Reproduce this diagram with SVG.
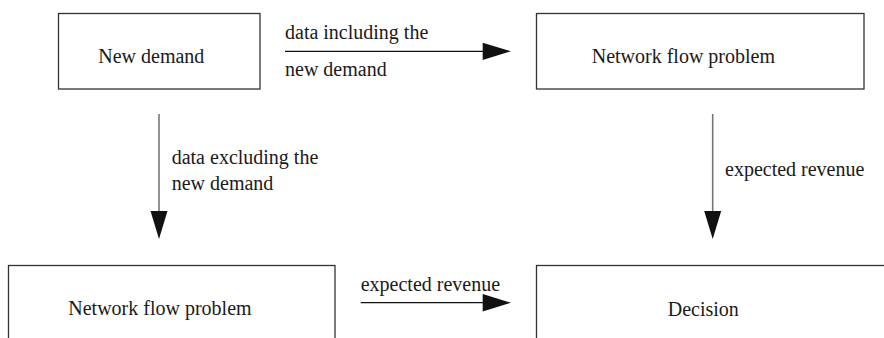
<svg xmlns="http://www.w3.org/2000/svg" width="884" height="338" viewBox="0 0 884 338">
<style>
.box{fill:#fff;stroke:#333;stroke-width:1.3}
.t{font-family:"Liberation Serif","Times New Roman",serif;font-size:20px;fill:#1a1a1a}
.h{stroke:#111;stroke-width:1.3;fill:none}
.v{stroke:#777;stroke-width:1.6;fill:none}
.head{fill:#111;stroke:none}
</style>
<rect width="884" height="338" fill="#fff"/>
<g id="new-demand">
<rect class="box" x="58.5" y="13.5" width="201.5" height="75.5"/>
<text class="t" x="98.3" y="63">New demand</text>
</g>
<g id="network-flow-top">
<rect class="box" x="536.5" y="13.5" width="327.5" height="75.5"/>
<text class="t" x="591.7" y="63">Network flow problem</text>
</g>
<g id="network-flow-bottom">
<rect class="box" x="8.5" y="265.5" width="326.5" height="80"/>
<text class="t" x="68.3" y="315">Network flow problem</text>
</g>
<g id="decision">
<rect class="box" x="536.5" y="265.5" width="360" height="80"/>
<text class="t" x="667.7" y="315.5">Decision</text>
</g>
<g id="connectors">
<line class="h" x1="285" y1="51.3" x2="484" y2="51.3"/>
<polygon class="head" points="482.7,42.7 511,51.3 482.7,60"/>
<text class="t" x="285" y="39">data including the</text>
<text class="t" x="285" y="76">new demand</text>
<line class="v" x1="159" y1="114" x2="159" y2="212"/>
<polygon class="head" points="150.5,211 167.5,211 159,239"/>
<text class="t" x="171.7" y="164">data excluding the</text>
<text class="t" x="171.7" y="190">new demand</text>
<line class="v" x1="712.7" y1="114" x2="712.7" y2="212"/>
<polygon class="head" points="704.2,211 721.2,211 712.7,239"/>
<text class="t" x="725" y="176">expected revenue</text>
<line class="h" x1="360.7" y1="302.7" x2="484" y2="302.7"/>
<polygon class="head" points="482.7,294 511,302.7 482.7,311.4"/>
<text class="t" x="360.7" y="290.7">expected revenue</text>
</g>
</svg>
